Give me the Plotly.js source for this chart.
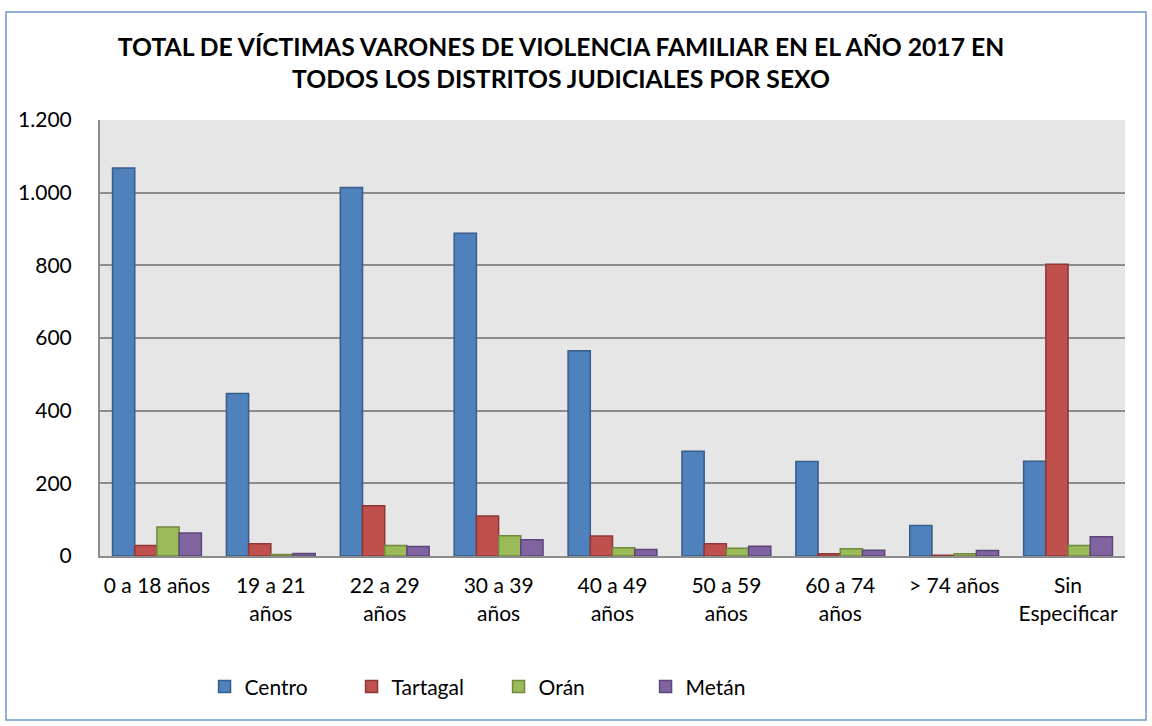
<!DOCTYPE html>
<html><head><meta charset="utf-8">
<script src="https://cdn.plot.ly/plotly-3.0.1.min.js"></script>
<style>html,body{margin:0;padding:0;background:#fff}#c{width:1152px;height:726px}</style>
</head><body><div id="c"></div>
<script>
const categories = ["0 a 18 años","19 a 21<br>años","22 a 29<br>años","30 a 39<br>años","40 a 49<br>años","50 a 59<br>años","60 a 74<br>años","> 74 años","Sin<br>Especificar"];
const centro   = [1068, 447, 1014, 888, 565, 288, 260, 84, 261];
const tartagal = [29, 34, 138, 110, 55, 34, 6, 2, 803];
const oran     = [80, 4, 29, 56, 23, 21, 20, 6, 29];
const metan    = [63, 7, 26, 45, 18, 27, 16, 15, 53];
const seriesNames = ["Centro","Tartagal","Orán","Metán"];
const fills = ["#4F81BD","#C0504D","#9BBB59","#8064A2"];
const lines = ["#385D8A","#8C3836","#71893F","#5C4776"];
const vals = [centro, tartagal, oran, metan];
const traces = vals.map((v,i)=>({type:"bar", x:categories, y:v, name:seriesNames[i],
  marker:{color:fills[i], line:{color:lines[i], width:1.5}}}));
const F = "Lato, 'Open Sans', sans-serif";
const layout = {
  width:1152, height:726, separators:",.",
  margin:{l:100, r:27, t:120, b:170},
  paper_bgcolor:"#ffffff", plot_bgcolor:"#e6e6e6",
  barmode:"group", bargap:0.22, bargroupgap:0,
  title:{text:"<b>TOTAL DE VÍCTIMAS VARONES DE VIOLENCIA FAMILIAR EN EL AÑO 2017 EN<br>TODOS LOS DISTRITOS JUDICIALES POR SEXO</b>",
    x:0.487, xanchor:"center", y:0.923, yanchor:"middle", font:{family:F, size:24.7, color:"#000"}},
  font:{family:F, size:21, color:"#000"},
  xaxis:{showgrid:false, showline:true, linecolor:"#8c8c8c", linewidth:2, ticks:"", ticklabelstandoff:10, tickfont:{size:21}, fixedrange:true},
  yaxis:{range:[0,1200], dtick:200, tickformat:",d", showgrid:true, gridcolor:"#8c8c8c", gridwidth:2,
    showline:true, linecolor:"#8c8c8c", linewidth:2, ticks:"", ticklabelstandoff:22, tickfont:{size:21}, zeroline:false, fixedrange:true},
  showlegend:true,
  legend:{orientation:"h", x:0.102, xanchor:"left", y:-0.3, yanchor:"middle", entrywidth:102, entrywidthmode:"pixels",
    font:{size:21}, itemwidth:30, traceorder:"normal"},
  shapes:[{type:"rect", xref:"paper", yref:"paper", x0:-0.0917, x1:1.0205, y0:-0.376, y1:1.2477,
    line:{color:"#6F95C6", width:1.5}, fillcolor:"rgba(0,0,0,0)"}]
};
Plotly.newPlot("c", traces, layout, {displayModeBar:false, staticPlot:true});
</script></body></html>
